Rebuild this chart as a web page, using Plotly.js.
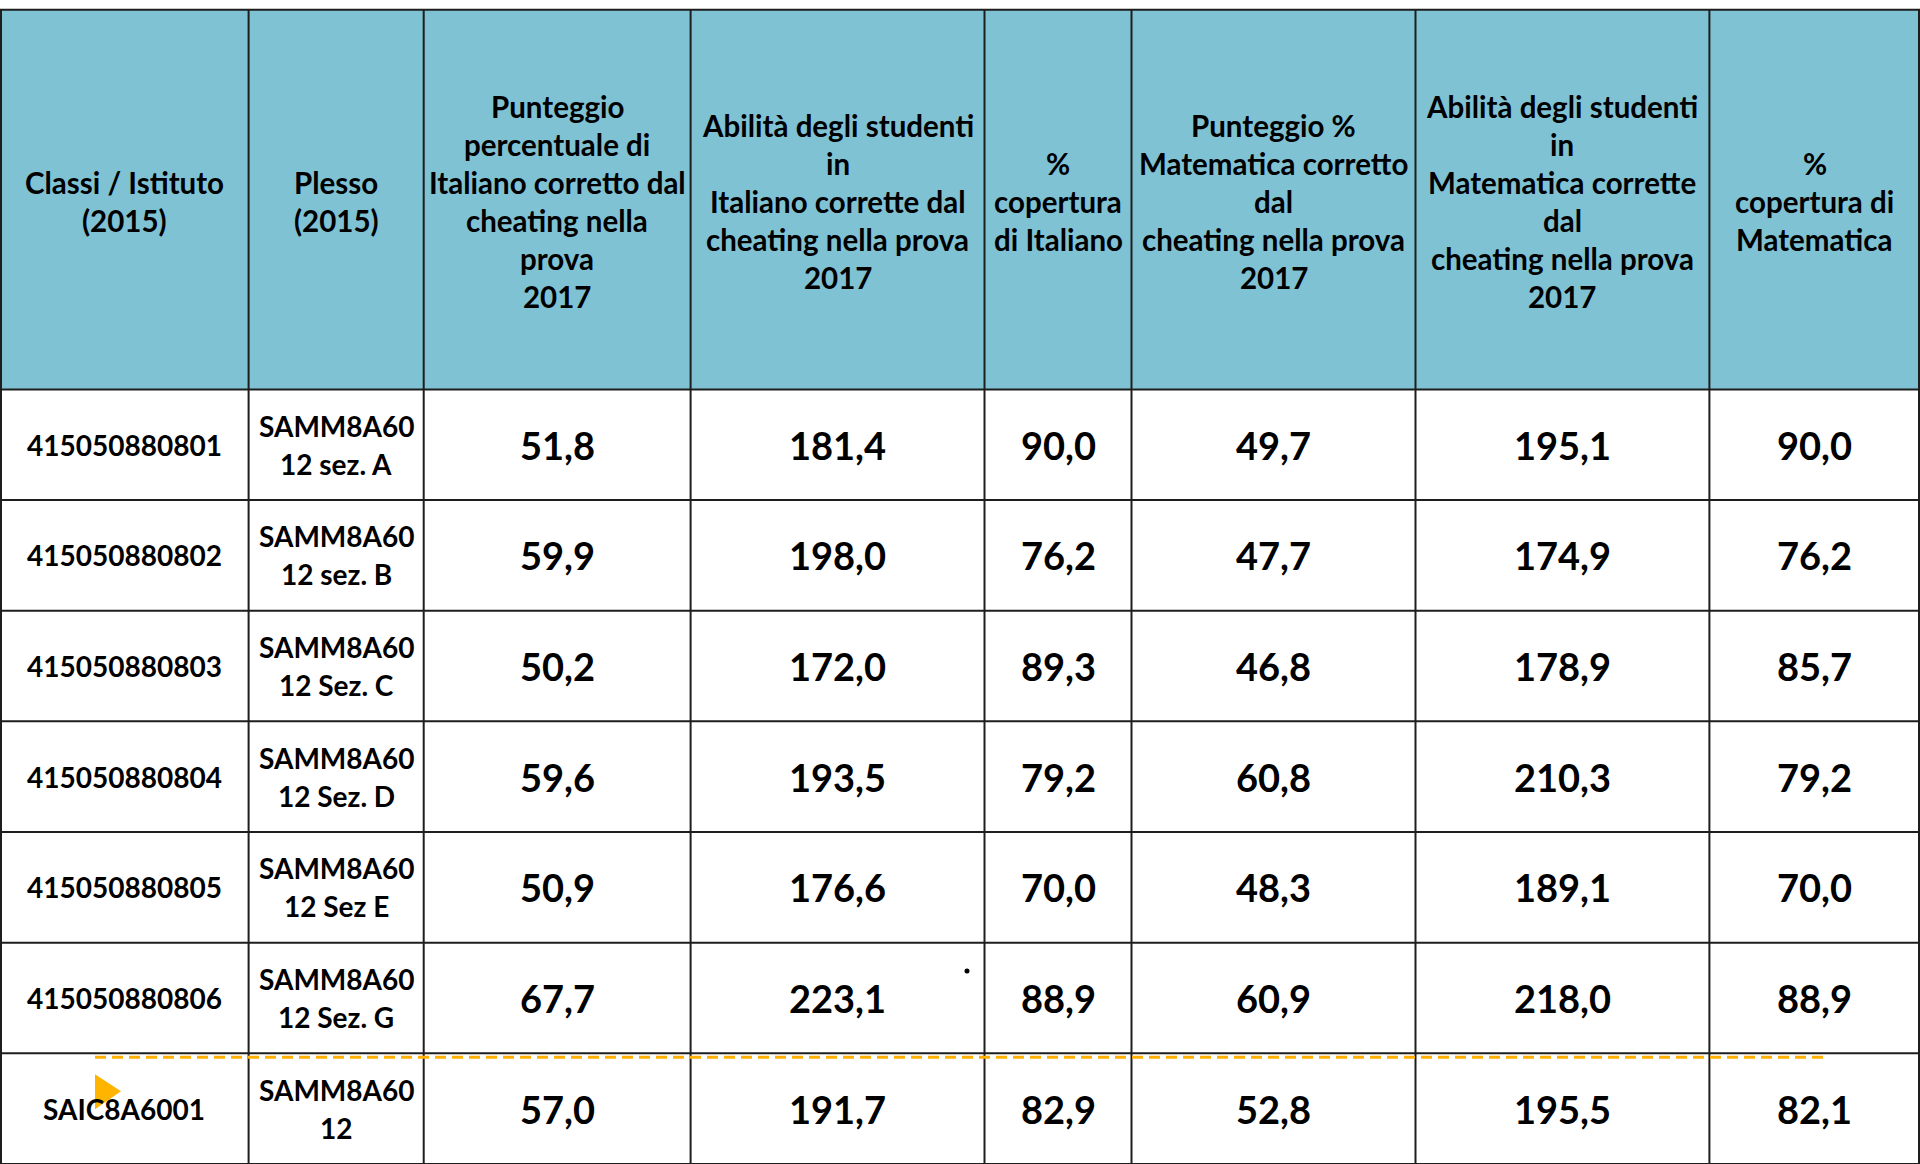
<!DOCTYPE html>
<html>
<head>
<meta charset="utf-8">
<script src="https://cdn.plot.ly/plotly-3.0.1.min.js"></script>
<style>html,body{margin:0;padding:0;background:#fff;}#chart{width:1920px;height:1164px;}</style>
</head>
<body>
<div id="chart"></div>
<script>
// ---- Data ----
const headerLines = [
  ["Classi / Istituto", "(2015)"],
  ["Plesso", "(2015)"],
  ["Punteggio", "percentuale di", "Italiano corretto dal", "cheating nella", "prova", "2017"],
  ["Abilità degli studenti", "in", "Italiano corrette dal", "cheating nella prova", "2017"],
  ["%", "copertura", "di Italiano"],
  ["Punteggio %", "Matematica corretto", "dal", "cheating nella prova", "2017"],
  ["Abilità degli studenti", "in", "Matematica corrette", "dal", "cheating nella prova", "2017"],
  ["%", "copertura di", "Matematica"]
];
const classi = ["415050880801", "415050880802", "415050880803", "415050880804", "415050880805", "415050880806", "SAIC8A6001"];
const plesso = [
  ["SAMM8A60", "12 sez. A"],
  ["SAMM8A60", "12 sez. B"],
  ["SAMM8A60", "12 Sez. C"],
  ["SAMM8A60", "12 Sez. D"],
  ["SAMM8A60", "12 Sez E"],
  ["SAMM8A60", "12 Sez. G"],
  ["SAMM8A60", "12"]
];
const punteggioItaliano = [51.8, 59.9, 50.2, 59.6, 50.9, 67.7, 57.0];
const abilitaItaliano   = [181.4, 198.0, 172.0, 193.5, 176.6, 223.1, 191.7];
const coperturaItaliano = [90.0, 76.2, 89.3, 79.2, 70.0, 88.9, 82.9];
const punteggioMatematica = [49.7, 47.7, 46.8, 60.8, 48.3, 60.9, 52.8];
const abilitaMatematica   = [195.1, 174.9, 178.9, 210.3, 189.1, 218.0, 195.5];
const coperturaMatematica = [90.0, 76.2, 85.7, 79.2, 70.0, 88.9, 82.1];

// ---- Layout geometry ----
const W = 1920, H = 1164;
const colWidths = [248.6, 175.1, 266.9, 293.9, 147.0, 284.0, 293.9, 210.6];
const tableTop = 9.8, headerBottom = 389.4;
const nRows = classi.length;
const rowH = (H - headerBottom) / nRows;
const colX = [0];
colWidths.forEach(w => colX.push(colX[colX.length - 1] + w));

const FONT = "Lato, 'Open Sans', sans-serif";
const headerColor = "#7FC2D4";
const lineColor = "#1e1e1e";
const lineSpacing = 38;

const fmt = v => v.toFixed(1).replace('.', ',');
const numericCols = [punteggioItaliano, abilitaItaliano, coperturaItaliano, punteggioMatematica, abilitaMatematica, coperturaMatematica];

const shapes = [];
const annotations = [];

// header background
shapes.push({type: 'rect', xref: 'x', yref: 'y', x0: 0, x1: W, y0: tableTop, y1: headerBottom,
  fillcolor: headerColor, line: {width: 0}, layer: 'below'});

// horizontal lines
const hY = [tableTop, headerBottom];
for (let r = 1; r <= nRows; r++) hY.push(headerBottom + r * rowH);
hY.forEach(y => shapes.push({type: 'line', xref: 'x', yref: 'y', x0: 0, x1: W, y0: y, y1: y,
  line: {color: lineColor, width: 2}}));
// vertical lines
colX.forEach(x => shapes.push({type: 'line', xref: 'x', yref: 'y', x0: Math.min(Math.max(x, 1), W - 1), x1: Math.min(Math.max(x, 1), W - 1),
  y0: tableTop, y1: H, line: {color: lineColor, width: 2}}));

function addLines(lines, cx, cy, size) {
  const n = lines.length;
  lines.forEach((t, i) => {
    annotations.push({xref: 'x', yref: 'y', x: cx, y: cy + (i - (n - 1) / 2) * lineSpacing,
      text: '<b>' + t + '</b>', showarrow: false, xanchor: 'center', yanchor: 'middle',
      font: {family: FONT, size: size, color: '#000'}});
  });
}

// header text
const headerCY = (tableTop + headerBottom) / 2 + 2;
headerLines.forEach((lines, c) => addLines(lines, (colX[c] + colX[c + 1]) / 2, headerCY, 29.5));

// body
for (let r = 0; r < nRows; r++) {
  const cy = headerBottom + (r + 0.5) * rowH;
  addLines([classi[r]], (colX[0] + colX[1]) / 2, cy, 28);
  addLines(plesso[r], (colX[1] + colX[2]) / 2, cy, 28);
  numericCols.forEach((arr, k) => {
    const c = k + 2;
    addLines([fmt(arr[r])], (colX[c] + colX[c + 1]) / 2, cy, 38);
  });
}

// decorations: orange dashed line, marker triangle and dot
const lastTop = headerBottom + (nRows - 1) * rowH;
shapes.push({type: 'line', xref: 'x', yref: 'y', x0: 95, x1: 1825, y0: lastTop + 4, y1: lastTop + 4,
  line: {color: '#FFB000', width: 3, dash: '11px,6px'}});
shapes.push({type: 'path', xref: 'x', yref: 'y',
  path: `M 95 ${lastTop + 21} L 121 ${lastTop + 38} L 95 ${lastTop + 56} Z`,
  fillcolor: '#FFB400', line: {width: 0}});
shapes.push({type: 'circle', xref: 'x', yref: 'y', x0: 964.5, x1: 969.5, y0: 968.5, y1: 973.5,
  fillcolor: '#000', line: {width: 0}});

const layout = {
  width: W, height: H,
  margin: {l: 0, r: 0, t: 0, b: 0},
  paper_bgcolor: '#fff', plot_bgcolor: '#fff',
  xaxis: {range: [0, W], visible: false, fixedrange: true},
  yaxis: {range: [H, 0], visible: false, fixedrange: true},
  shapes: shapes,
  annotations: annotations,
  showlegend: false
};

Plotly.newPlot('chart', [{type: 'scatter', x: [], y: [], hoverinfo: 'skip'}], layout, {staticPlot: true, displayModeBar: false});
</script>
</body>
</html>
